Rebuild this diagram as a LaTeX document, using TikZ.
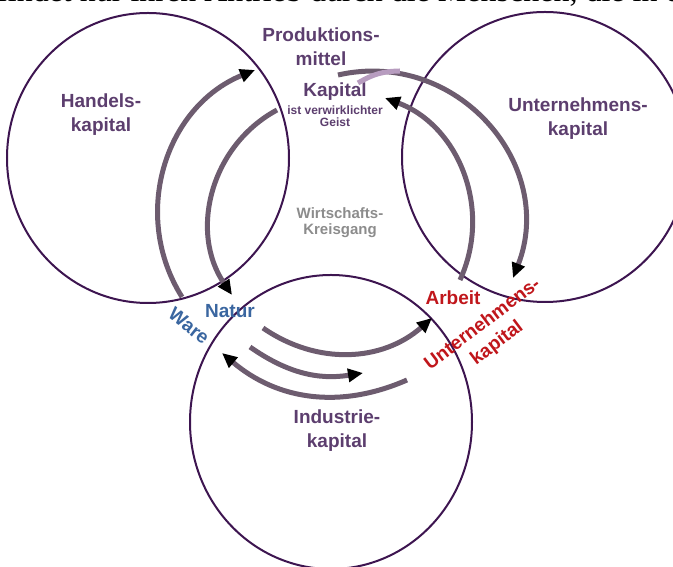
\documentclass[tikz,border=0pt]{standalone}
\usepackage{fontspec}
\setmainfont{Liberation Sans}
\newfontfamily\serif{Liberation Serif}
\usetikzlibrary{arrows.meta}
\definecolor{ringc}{HTML}{3D1550}
\definecolor{flowc}{HTML}{6D5C6F}
\definecolor{lightc}{HTML}{B79CBF}
\definecolor{labc}{HTML}{5C3E6E}
\definecolor{bluec}{HTML}{3A66A0}
\definecolor{redc}{HTML}{C0161B}
\definecolor{grayc}{HTML}{8C8C8C}
\begin{document}
\begin{tikzpicture}[x=1pt,y=1pt,
  ring/.style={draw=ringc,line width=2pt},
  flow/.style={draw=flowc,line width=5pt,-{Triangle[length=15pt,width=13pt,color=black]}},
  lab/.style={text=labc,font=\bfseries\fontsize{19}{24}\selectfont,align=center}]
\useasboundingbox (0,0) rectangle (673,567);
\clip (0,0) rectangle (673,567);

\node[anchor=base west,inner sep=0] (top) at (-3,565) {\serif\fontsize{32}{36}\selectfont findet nur ihren Antrieb durch die Menschen, die in d};

\draw[ring] (148,409) ellipse[x radius=141pt,y radius=145pt];
\draw[ring] (545,410) ellipse[x radius=143pt,y radius=145pt];
\draw[ring] (331,145) ellipse[x radius=141pt,y radius=147pt];

\node[lab] (handel) at (101,452) {Handels-\\kapital};
\node[lab] (prod) at (321,520) {Produktions-\\mittel};
\node[lab] (kap) at (335,475) {Kapital};
\node[lab,font=\bfseries\fontsize{12}{12}\selectfont] (geist) at (335,451) {ist verwirklichter\\Geist};
\node[lab] (unter) at (578,448) {Unternehmens-\\kapital};
\node[lab,text=grayc,font=\bfseries\fontsize{15}{16}\selectfont] (kreis) at (340,344) {Wirtschafts-\\Kreisgang};
\node[lab] (indu) at (337,136) {Industrie-\\kapital};
\node[lab,text=bluec] (natur) at (230,256) {Natur};
\node[lab,text=bluec,rotate=-38] (ware) at (189,241) {Ware};
\node[lab,text=redc] (arbeit) at (453,269) {Arbeit};
\node[lab,text=redc,rotate=37] (ukap) at (490,233) {Unternehmens-\\kapital};

% ends of the arcs
\coordinate (a1) at (182,270);
\coordinate (a2) at (255,497);
\coordinate (b1) at (277,457);
\coordinate (b2) at (232,272);
\coordinate (c1) at (338,492);
\coordinate (c2) at (513,289);
\coordinate (d1) at (460,287);
\coordinate (d2) at (385,469);
\coordinate (e1) at (263,239);
\coordinate (e2) at (432,249);
\coordinate (f1) at (250,220);
\coordinate (f2) at (363,194);
\coordinate (g1) at (407,187);
\coordinate (g2) at (222,214);
\coordinate (h1) at (358,484);
\coordinate (h2) at (400,496);

\draw[flow] (a1) to[bend left=50,looseness=1.04] (a2);
\draw[flow] (b1) to[bend right=48,looseness=1.02] (b2);
\draw[flow] (c1) to[bend left=62,looseness=1.16] (c2);
\draw[flow] (d1) to[bend right=47,looseness=1.02] (d2);
\draw[draw=lightc,line width=5pt] (h1) to[bend left=15] (h2);
\draw[flow] (e1) to[bend right=38] (e2);
\draw[flow] (f1) to[bend right=22] (f2);
\draw[flow] (g1) to[bend left=32] (g2);
\end{tikzpicture}
\end{document}
